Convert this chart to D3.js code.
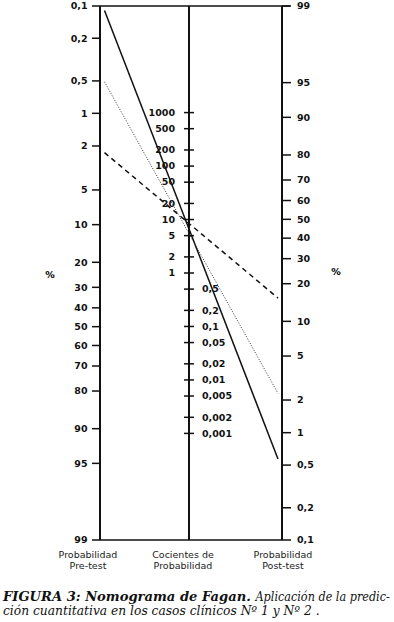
<!DOCTYPE html>
<html><head><meta charset="utf-8">
<script src="https://cdn.jsdelivr.net/npm/d3@7"></script>
<style>body{margin:0;background:#fff}svg{display:block}</style>
</head><body>
<script>
// ---- data ----
const preTicks  = [0.1,0.2,0.5,1,2,5,10,20,30,40,50,60,70,80,90,95,99];
const preLabels = ["0,1","0,2","0,5","1","2","5","10","20","30","40","50","60","70","80","90","95","99"];
const postTicks  = [99,95,90,80,70,60,50,40,30,20,10,5,2,1,0.5,0.2,0.1];
const postLabels = ["99","95","90","80","70","60","50","40","30","20","10","5","2","1","0,5","0,2","0,1"];
const lrTicksHigh  = [1000,500,200,100,50,20,10,5,2,1];
const lrLabelsHigh = ["1000","500","200","100","50","20","10","5","2","1"];
const lrTicksLow  = [0.5,0.2,0.1,0.05,0.02,0.01,0.005,0.002,0.001];
const lrLabelsLow = ["0,5","0,2","0,1","0,05","0,02","0,01","0,005","0,002","0,001"];
const caseNames  = ["caso A","caso B","caso C"];
const preValues  = [0.11, 0.51, 2.3];   // % pre-test
const postValues = [0.57, 2.3, 15.5];   // % post-test
const axisTitles = [["Probabilidad","Pre-test"],["Cocientes de","Probabilidad"],["Probabilidad","Post-test"]];
const captionBold = "FIGURA 3: Nomograma de Fagan.";
const captionRest1 = "Aplicación de la predic-";
const captionLine2 = "ción cuantitativa en los casos clínicos Nº 1 y Nº 2 .";

// ---- layout ----
const W=394,H=622;
const xL=100, xM=189, xR=282, yTop=6, yBot=540;
const logit = p => Math.log((p/100)/(1-p/100));
const yPreS  = d3.scaleLinear().domain([logit(0.1), logit(99)]).range([yTop,yBot]);
const yPostS = d3.scaleLinear().domain([logit(99), logit(0.1)]).range([yTop,yBot]);
const yLR = d3.scaleLog().domain([1000,0.001]).range([112.6,433.4]);
const yPre = p => yPreS(logit(p)), yPost = p => yPostS(logit(p));

const svg=d3.select("body").append("svg").attr("width",W).attr("height",H);
const tickFont="DejaVu Sans", tfs=9.5;
const ax=svg.append("g").attr("stroke","#111");

// frame lines
ax.append("line").attr("x1",xL).attr("x2",xR+8).attr("y1",yTop).attr("y2",yTop).attr("stroke-width",1.5);
ax.append("line").attr("x1",xL).attr("x2",xR).attr("y1",yBot).attr("y2",yBot).attr("stroke-width",1.5);
[xL,xM,xR].forEach(x=>ax.append("line").attr("x1",x).attr("x2",x).attr("y1",yTop).attr("y2",yBot).attr("stroke-width",2));

function labels(g,data,lab,x,anchor,cls){
  g.selectAll("text."+cls).data(data).join("text").attr("class",cls)
   .attr("x",x).attr("y",d=>d.y).attr("dy","0.35em").attr("text-anchor",anchor)
   .attr("font-family",tickFont).attr("font-weight","bold").attr("font-size",tfs).attr("fill","#111")
   .text((d,i)=>lab[i]);
}
// left axis
const gl=svg.append("g");
gl.selectAll("line").data(preTicks).join("line")
 .attr("x1",xL-8).attr("x2",xL).attr("y1",d=>yPre(d)).attr("y2",d=>yPre(d)).attr("stroke","#111").attr("stroke-width",1.5);
labels(gl,preTicks.map(v=>({y:yPre(v)})),preLabels,87.5,"end","a");

// right axis
const gr=svg.append("g");
gr.selectAll("line").data(postTicks).join("line")
 .attr("x1",xR).attr("x2",xR+9).attr("y1",d=>yPost(d)).attr("y2",d=>yPost(d)).attr("stroke","#111").attr("stroke-width",1.5);
labels(gr,postTicks.map(v=>({y:yPost(v)})),postLabels,297,"start","b");

// middle axis
const gm=svg.append("g");
gm.selectAll("line").data(lrTicksHigh.concat(lrTicksLow)).join("line")
 .attr("x1",xM-5).attr("x2",xM+5).attr("y1",d=>yLR(d)).attr("y2",d=>yLR(d)).attr("stroke","#111").attr("stroke-width",1.5);
labels(gm,lrTicksHigh.map(v=>({y:yLR(v)})),lrLabelsHigh,175,"end","h");
labels(gm,lrTicksLow.map(v=>({y:yLR(v)})),lrLabelsLow,202,"start","l");

// % labels
[[50,275],[336,272]].forEach(([x,y])=>svg.append("text").attr("x",x).attr("y",y).attr("dy","0.35em")
 .attr("text-anchor","middle").attr("font-family",tickFont).attr("font-weight","bold").attr("font-size",tfs).text("%"));

// axis titles
[88,183,283].forEach((cx,i)=>{
  const t=svg.append("text").attr("font-family",tickFont).attr("font-size",9.5).attr("fill","#222").attr("text-anchor","middle");
  t.append("tspan").attr("x",cx).attr("y",558).text(axisTitles[i][0]);
  t.append("tspan").attr("x",cx).attr("y",569).text(axisTitles[i][1]);
});

// case lines
const styles=[{w:1.5,dash:null,c:"#111"},{w:1,dash:"1,1.6",c:"#333"},{w:1.5,dash:"5,4",c:"#111"}];
svg.append("g").selectAll("line").data(caseNames).join("line")
 .attr("x1",xL+4.5).attr("y1",(d,i)=>yPre(preValues[i]))
 .attr("x2",xR-4).attr("y2",(d,i)=>yPost(postValues[i]))
 .attr("stroke",(d,i)=>styles[i].c).attr("stroke-width",(d,i)=>styles[i].w)
 .attr("stroke-dasharray",(d,i)=>styles[i].dash);

// caption
function capText(str,x0,x1,y,bold,fs){
  const t=svg.append("text").attr("x",0).attr("y",0).attr("font-family","DejaVu Serif").attr("font-size",fs)
    .attr("font-style","italic").attr("font-weight",bold?"bold":"normal").attr("fill","#111").text(str);
  const L=t.node().getComputedTextLength();
  t.attr("transform",`translate(${x0},${y}) scale(${(x1-x0)/L},1)`);
}
capText(captionBold,3,251,600.5,true,12.5);
capText(captionRest1,255.5,390,600.5,false,12.5);
capText(captionLine2,3,320,615,false,12);
</script>
</body></html>
